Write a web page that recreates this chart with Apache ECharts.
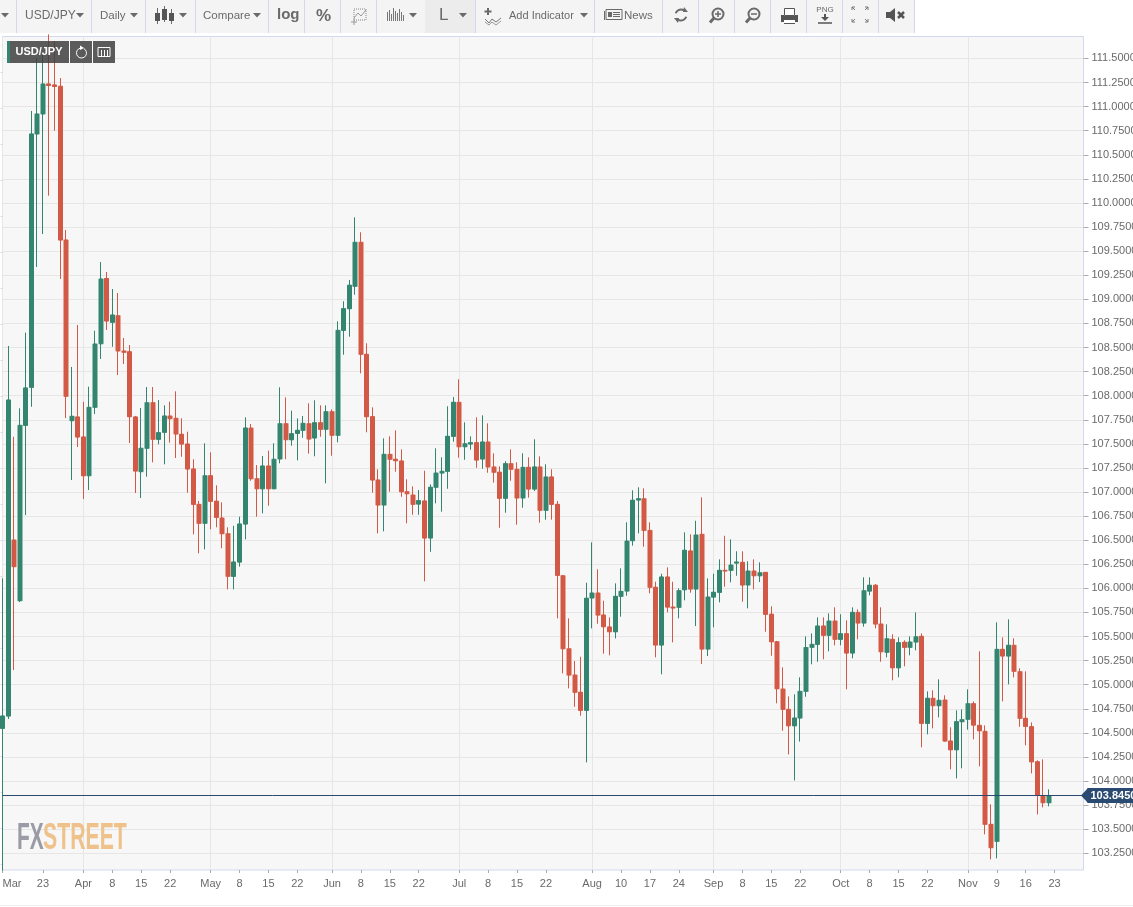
<!DOCTYPE html>
<html><head><meta charset="utf-8"><title>USD/JPY</title>
<style>html,body{margin:0;padding:0;background:#fff;overflow:hidden}#c{width:1133px;height:907px}</style>
<script src="https://cdn.jsdelivr.net/npm/echarts@6/dist/echarts.min.js"></script>
</head><body><div id="c"></div>
<script>
const opens=[
104.547,104.675,106.502,105.872,107.692,108.087,110.716,110.924,111.235,111.225,
111.211,109.616,107.740,107.779,107.571,107.169,107.879,108.539,109.216,108.762,
108.830,108.464,108.456,107.779,107.211,107.454,107.927,107.547,107.620,107.789,
107.765,107.599,107.498,107.239,106.872,106.675,107.169,106.904,106.730,106.567,
106.125,106.273,106.668,107.664,107.138,107.034,107.270,107.034,107.343,107.709,
107.543,107.609,107.640,107.709,107.561,107.719,107.651,107.834,107.589,108.678,
108.903,109.135,109.592,108.429,107.782,107.125,106.865,107.391,107.340,107.322,
107.003,106.969,106.875,106.907,106.523,107.049,107.197,107.215,107.578,107.931,
107.470,107.498,107.512,107.343,107.519,107.260,107.205,106.935,107.294,107.236,
106.938,107.256,107.031,107.260,106.810,107.156,106.872,106.131,105.373,105.100,
104.921,104.734,105.900,105.952,105.723,105.599,105.550,105.917,105.972,106.495,
106.917,106.930,106.602,106.011,105.412,106.118,105.806,105.803,105.986,106.388,
105.993,106.561,105.370,105.910,105.959,106.187,106.187,106.263,106.270,106.035,
106.180,106.131,106.166,105.731,105.446,104.955,104.744,104.574,104.654,104.931,
105.388,105.419,105.609,105.513,105.661,105.471,105.529,105.329,105.751,105.640,
105.972,106.032,105.630,105.336,105.471,105.176,105.440,105.388,105.443,105.502,
104.599,104.859,104.782,104.841,104.415,104.325,104.616,104.641,104.803,104.578,
104.516,103.551,103.374,105.367,105.298,105.409,105.135,104.651,104.564,104.200,
103.848,103.775];
const closes=[
104.675,107.955,106.225,107.692,108.080,110.716,110.924,111.235,111.220,111.209,
109.616,107.993,107.786,107.571,107.169,107.879,108.536,109.211,108.775,108.837,
108.464,108.450,107.782,107.218,107.454,107.927,107.547,107.616,107.789,107.761,
107.602,107.498,107.239,106.872,106.675,107.169,106.904,106.737,106.567,106.125,
106.273,106.668,107.664,107.138,107.034,107.270,107.034,107.340,107.709,107.543,
107.605,107.640,107.713,107.550,107.719,107.651,107.834,107.589,108.678,108.903,
109.146,109.592,108.429,107.782,107.125,106.865,107.391,107.340,107.325,107.003,
106.982,106.872,106.910,106.523,107.049,107.197,107.215,107.578,107.931,107.470,
107.501,107.512,107.332,107.519,107.260,107.205,106.935,107.294,107.236,106.938,
107.256,107.031,107.260,106.810,107.156,106.872,106.135,105.373,105.100,104.921,
104.734,105.897,105.952,105.723,105.602,105.550,105.917,105.969,106.491,106.914,
106.930,106.602,106.011,105.412,106.118,105.806,105.796,105.976,106.395,105.993,
106.554,105.370,105.910,105.959,106.187,106.180,106.242,106.273,106.035,106.180,
106.131,106.162,105.731,105.446,104.958,104.744,104.574,104.654,104.931,105.386,
105.419,105.609,105.513,105.661,105.471,105.529,105.329,105.751,105.640,105.976,
106.032,105.630,105.342,105.477,105.176,105.436,105.388,105.443,105.498,104.599,
104.859,104.782,104.838,104.415,104.325,104.616,104.637,104.803,104.581,104.522,
103.551,103.308,105.367,105.298,105.409,105.139,104.651,104.568,104.200,103.852,
103.775,103.848];
const lows=[
103.07,104.644,105.152,105.858,106.761,107.885,109.336,109.678,110.076,110.750,
109.211,107.768,107.125,107.467,106.927,107.021,107.810,108.381,108.682,108.508,
108.214,108.329,107.509,106.990,106.938,107.159,107.308,107.495,107.288,107.512,
107.353,107.366,106.993,106.561,106.364,106.405,106.613,106.634,106.416,105.990,
105.990,106.225,106.509,107.117,106.744,106.779,106.858,107.030,107.298,107.340,
107.481,107.329,107.564,107.398,107.371,107.574,107.090,107.377,107.516,108.425,
108.612,109.048,108.232,107.620,106.993,106.571,106.592,107.003,107.211,106.951,
106.675,106.764,106.764,106.073,106.380,106.883,106.796,107.034,107.522,107.356,
107.335,107.439,107.252,107.242,107.200,107.097,106.629,106.785,107.117,106.661,
106.837,106.941,107.010,106.681,106.713,106.713,105.689,105.118,104.962,104.771,
104.678,104.194,105.585,105.633,105.322,105.305,105.481,105.706,105.924,106.443,
106.571,106.432,105.949,105.284,105.108,105.751,105.440,105.689,105.876,105.955,
105.609,105.215,105.298,105.596,105.855,106.017,106.063,106.131,105.861,105.793,
105.990,106.066,105.550,105.301,104.807,104.522,104.277,104.007,104.410,104.875,
105.212,105.238,105.264,105.347,105.409,105.409,104.952,105.274,105.471,105.602,
105.928,105.585,105.238,105.284,105.046,105.077,105.191,105.305,105.357,104.350,
104.485,104.547,104.661,104.410,104.122,104.028,104.132,104.533,104.433,104.153,
103.447,103.187,103.198,104.827,105.004,105.077,104.564,104.371,104.080,103.654,
103.727,103.738];
const highs=[
106.104,108.516,107.574,107.869,108.654,110.955,111.505,111.536,111.75,111.681,
111.297,109.720,108.298,108.733,107.937,108.093,108.674,109.387,109.284,109.107,
109.066,108.599,108.526,107.79,107.872,108.090,108.090,107.955,107.900,107.937,
108.045,107.765,107.626,107.340,106.907,107.506,107.412,107.070,106.893,106.634,
106.650,106.744,107.775,107.706,107.280,107.374,107.429,107.506,108.087,107.983,
107.844,107.765,107.789,107.921,107.952,107.900,107.900,107.858,108.772,108.980,
109.201,109.851,109.696,108.544,107.879,107.236,107.557,107.578,107.640,107.443,
107.132,107.059,107.021,107.221,107.080,107.454,107.360,107.890,107.986,108.170,
107.724,107.578,107.775,107.796,107.713,107.402,107.267,107.319,107.443,107.308,
107.402,107.360,107.547,107.370,107.288,107.236,106.907,106.14,105.689,105.246,
105.290,106.059,106.478,106.198,105.872,105.699,106.052,106.208,106.686,107.018,
107.049,107.038,106.686,106.069,106.152,106.218,106.069,106.000,106.582,106.561,
106.702,106.945,106.104,106.152,106.301,106.546,106.509,106.385,106.385,106.281,
106.301,106.270,106.170,105.814,105.454,105.180,104.879,104.900,105.077,105.502,
105.533,105.699,105.699,105.741,105.803,105.731,105.668,105.803,105.782,106.115,
106.115,106.045,105.803,105.627,105.523,105.492,105.461,105.502,105.751,105.533,
104.931,104.942,105.056,104.890,104.558,104.734,104.744,104.952,104.827,105.347,
104.578,103.758,105.648,105.492,105.679,105.481,105.170,105.139,104.609,104.215,
104.225,103.914];
const xTickDates=["2020-03-12","2020-03-23","2020-04-01","2020-04-08","2020-04-15","2020-04-22","2020-05-01","2020-05-08","2020-05-15","2020-05-22","2020-06-01","2020-06-08","2020-06-15","2020-06-22","2020-07-01","2020-07-08","2020-07-15","2020-07-22","2020-08-03","2020-08-10","2020-08-17","2020-08-24","2020-09-01","2020-09-08","2020-09-15","2020-09-22","2020-10-01","2020-10-08","2020-10-15","2020-10-22","2020-11-02","2020-11-09","2020-11-16","2020-11-23"];
const xTickLabels=["Mar","23","Apr","8","15","22","May","8","15","22","Jun","8","15","22","Jul","8","15","22","Aug","10","17","24","Sep","8","15","22","Oct","8","15","22","Nov","9","16","23"];
const yTicks=[103.25,103.5,103.75,104,104.25,104.5,104.75,105,105.25,105.5,105.75,106,106.25,106.5,106.75,107,107.25,107.5,107.75,108,108.25,108.5,108.75,109,109.25,109.5,109.75,110,110.25,110.5,110.75,111,111.25,111.5];
const leftScaleTicks=[2,3,4,5,6,7,8,9,10,11,12,13,14,15,16,17,18,19,20,21,22,23,24];
const lastPriceLevel=103.852;
const lastPriceLabel="103.8450";
const pairName="USD/JPY";

// weekdays from 2020-03-12, one slot per trading day, running past the last candle
const categories=[];
for(let d=new Date(Date.UTC(2020,2,12));categories.length<188;d=new Date(d.getTime()+864e5)){
  const w=d.getUTCDay(); if(w!==0&&w!==6) categories.push(d.toISOString().slice(0,10));
}
const labelOf=Object.fromEntries(xTickDates.map((d,i)=>[d,xTickLabels[i]]));
const GREEN='#33856f',RED='#d25945',FRAME='#d3d8ec',NAVY='#2b4a72',GREY='#6a6a6a';
const candles=opens.map((o,i)=>[o,closes[i],lows[i],highs[i]]);
const halos=opens.map((o,i)=>[o,closes[i],Math.min(o,closes[i]),Math.max(o,closes[i])]);

// ---- toolbar and overlay furniture
const g=[];
const R=(x,y,w,h,fill,z)=>g.push({type:'rect',silent:true,z:z||50,shape:{x,y,width:w,height:h},style:{fill}});
const L=(x1,y1,x2,y2,c,w,z)=>g.push({type:'line',silent:true,z:z||52,shape:{x1,y1,x2,y2},style:{stroke:c||GREY,lineWidth:w||1}});
const T=(text,x,y,font,fill,align,z)=>g.push({type:'text',silent:true,z:z||52,x,y,style:{text,font,fill:fill||GREY,textAlign:align||'left',textVerticalAlign:'middle'}});
const P=(pts,fill,z)=>g.push({type:'polygon',silent:true,z:z||52,shape:{points:pts},style:{fill:fill||GREY}});
const PL=(pts,c,w,dash)=>g.push({type:'polyline',silent:true,z:52,shape:{points:pts},style:{stroke:c||GREY,lineWidth:w||1,fill:'none',lineDash:dash}});
const C=(cx,cy,r,c,w)=>g.push({type:'circle',silent:true,z:52,shape:{cx,cy,r},style:{fill:'none',stroke:c||GREY,lineWidth:w||1}});
const A=(cx,cy,r,s,e,c,w)=>g.push({type:'arc',silent:true,z:52,shape:{cx,cy,r,startAngle:s,endAngle:e},style:{fill:'none',stroke:c||GREY,lineWidth:w||1}});
const tri=x=>P([[x-4,13],[x+4,13],[x,17.5]]);
[[0,16],[17,74],[92,53],[146,49],[196,72],[269,35],[305,35],[341,35],[377,48],[476,118],[595,67],[663,35],[699,35],[735,35],[771,35],[807,35],[843,35],[879,35]].forEach(b=>R(b[0],0,b[1],33,'#f4f4f4'));
R(425,0,50,33,'#ececec');
[16.5,91.5,145.5,195.5,268.5,304.5,340.5,376.5,475.5,594.5,662.5,698.5,734.5,770.5,806.5,842.5,878.5,914.5].forEach(x=>L(x,0,x,33,FRAME,1));
[5,80,134,183,257,413,463,584].forEach(tri);
const F='"Liberation Sans"';
T(pairName,25,15.5,'12px '+F);T('Daily',100,15.5,'11.5px '+F);T('Compare',203,15.5,'11.5px '+F);
T('log',277,15,'bold 15px '+F);T('%',316,16,'bold 17px '+F);T('L',439,15,'17px '+F);
T('Add Indicator',509,15.5,'11px '+F);T('News',624,15.5,'11.5px '+F);
// candle icon
[[157.5,8,24,13,21],[164.5,6,22,9,20],[171.5,9,24,13,21]].forEach(c=>{L(c[0],c[1],c[0],c[2],GREY,1);R(c[0]-2.5,c[3],5,c[4]-c[3],'#555',52);});
// zoom-box icon
g.push({type:'rect',silent:true,z:52,shape:{x:354,y:9,width:12,height:11},style:{fill:'none',stroke:'#888',lineWidth:1,lineDash:[1,1]}});
PL([[354,18],[358,13],[361,16],[366,10]],'#999',1);L(351,22,357,22,'#999',1);L(354,19,354,25,'#999',1);
// bars icon
[[387,12,21],[389,10,21],[391,14,21],[393,8,21],[395,11,21],[397,13,21],[399,9,21],[401,12,21],[403,15,21]].forEach(b=>L(b[0]+.5,b[1],b[0]+.5,b[2],'#777',1));
// add indicator icon
L(488,8,488,15,GREY,2);L(484.5,11.5,491.5,11.5,GREY,2);
PL([[485,19],[489,23],[492,19],[496,22],[501,18]],'#777',1);PL([[485,22],[489,25],[492,22],[496,25],[501,21]],'#999',1);
// news icon
g.push({type:'rect',silent:true,z:52,shape:{x:606,y:9.5,width:16,height:10},style:{fill:'none',stroke:GREY,lineWidth:1}});
R(608,12,4,5,GREY,52);[12.5,14.5,16.5].forEach(y=>L(613,y,620,y,GREY,1));L(604.5,11,604.5,20,GREY,1);
// refresh
A(681,15,5.5,Math.PI*1.1,Math.PI*1.75,GREY,2);A(681,15,5.5,Math.PI*0.1,Math.PI*0.75,GREY,2);
P([[684,7],[688,12],[683,12]]);P([[678,23],[674,18],[679,18]]);
// zoom in / out
[[718,true],[754,false]].forEach(a=>{C(a[0],14,5.5,GREY,2);L(a[0]-4,18,a[0]-8,22.5,GREY,3);L(a[0]-3,14,a[0]+3,14,GREY,1.5);if(a[1])L(a[0],11,a[0],17,GREY,1.5);});
// print
R(781,15,17,7,'#555',52);R(784,9,11,7,'#fff',53);g.push({type:'rect',silent:true,z:54,shape:{x:784.5,y:8.5,width:10,height:7},style:{fill:'none',stroke:'#555',lineWidth:1}});R(784,20,11,3,'#fff',53);L(784,23.5,795,23.5,'#555',1);
// png
T('PNG',825,9.5,'8px '+F,GREY,'center');L(825,14,825,19,'#555',2);P([[821,17],[829,17],[825,21]],'#555');L(818,23,832,23,'#555',1.5);
// fullscreen
[[852,7,1,1],[868,7,-1,1],[852,22,1,-1],[868,22,-1,-1]].forEach(a=>{L(a[0],a[1],a[0]+a[2]*3,a[1]+a[3]*3,'#777',1);L(a[0],a[1],a[0]+a[2]*3,a[1],'#777',1);L(a[0],a[1],a[0],a[1]+a[3]*3,'#777',1);});
// mute
P([[886,12],[890,12],[895,8],[895,22],[890,18],[886,18]],'#555');L(898,12,904,18,'#555',2.5);L(904,12,898,18,'#555',2.5);
// series tag
R(7,41,108,22,'rgba(64,64,64,0.85)',60);R(7,41,3,22,GREEN,61);L(69.5,41,69.5,63,'#fff',1,61);L(92.5,41,92.5,63,'#fff',1,61);
T(pairName,39,52,'bold 11px '+F,'#fff','center',62);
g.push({type:'arc',silent:true,z:62,shape:{cx:81.5,cy:53,r:5,startAngle:-Math.PI*0.35,endAngle:Math.PI*1.45},style:{fill:'none',stroke:'#fff',lineWidth:1}});
P([[80,45.5],[84,48],[80,50]],'#fff',62);
g.push({type:'rect',silent:true,z:62,shape:{x:98,y:47.5,width:12,height:9},style:{fill:'none',stroke:'#fff',lineWidth:1}});
[101,104,107].forEach(x=>L(x+.5,50,x+.5,56,'#fff',1,62));
// watermark
g.push({type:'text',silent:true,z:3,x:17,y:839.5,scaleX:.58,style:{text:'FX',font:'bold 36px '+F,fill:'#9a9ba5',textVerticalAlign:'middle'}});
g.push({type:'text',silent:true,z:3,x:43,y:839.5,scaleX:.59,style:{text:'STREET',font:'bold 36px '+F,fill:'#efc18b',textVerticalAlign:'middle'}});
// page rule and price flag nose
L(0,905.5,1133,905.5,'#eeeeee',1);
P([[1081,795.5],[1088,788],[1088,803]],NAVY,60);

const chart=echarts.init(document.getElementById('c'),null,{renderer:'canvas',width:1133,height:907});
chart.setOption({
  animation:false,backgroundColor:'#fff',
  grid:{left:2.5,top:36.5,width:1081,height:833.5,outerBoundsMode:'none',show:true,backgroundColor:'#f7f7f7',borderColor:FRAME,borderWidth:1},
  xAxis:{type:'category',boundaryGap:false,data:categories,
    axisLine:{show:false},
    axisTick:{show:true,length:3,interval:(i,v)=>v in labelOf,lineStyle:{color:'#aaaaaa'}},
    axisLabel:{interval:(i,v)=>v in labelOf,formatter:v=>labelOf[v]||'',color:GREY,fontSize:11,fontFamily:F,margin:8,alignMinLabel:'left',hideOverlap:false},
    splitLine:{show:true,interval:(i,v)=>(v in labelOf)&&isNaN(+labelOf[v]),lineStyle:{color:'#e6e6e6',width:1}}},
  yAxis:[{type:'value',position:'right',min:103.077,max:111.728,scale:true,
    axisLine:{show:false},
    axisTick:{show:true,length:5,customValues:yTicks,lineStyle:{color:'#aaaaaa'}},
    axisLabel:{customValues:yTicks,formatter:v=>v.toFixed(4),color:GREY,fontSize:11,fontFamily:F,margin:8,padding:[2,0,0,0]},
    splitLine:{show:true,lineStyle:{color:'#e6e6e6',width:1}}},
   {type:'value',position:'left',inverse:true,min:1.014,max:24.167,scale:true,
    axisLine:{show:false},
    axisTick:{show:true,length:2,customValues:leftScaleTicks,lineStyle:{color:FRAME}},
    axisLabel:{show:false},splitLine:{show:false}}],
  series:[
   {type:'candlestick',name:pairName+' body edge',z:2,barWidth:5,data:halos,silent:true,
    itemStyle:{color:'#94bfb3',color0:'#e8a79b',borderColor:'#94bfb3',borderColor0:'#e8a79b',borderWidth:1}},
   {type:'candlestick',name:pairName,z:3,barWidth:4,data:candles,silent:true,
    itemStyle:{color:GREEN,color0:RED,borderColor:GREEN,borderColor0:RED,borderWidth:1},
    markLine:{silent:true,symbol:'none',data:[{yAxis:lastPriceLevel}],z:5,
      lineStyle:{color:NAVY,width:1,type:'solid'},
      label:{show:true,position:'end',distance:4,formatter:()=>lastPriceLabel,color:'#fff',fontWeight:'bold',fontSize:11,fontFamily:F,backgroundColor:NAVY,padding:[2,12,2,3]}}}
  ],
  graphic:{elements:g}
});
</script></body></html>
